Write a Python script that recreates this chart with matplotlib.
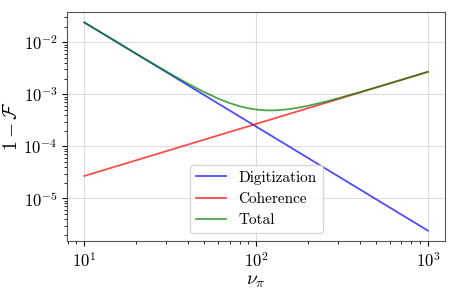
import matplotlib
matplotlib.use("Agg")
import matplotlib.pyplot as plt

# values (log-log)
nu = [10, 15, 20, 30, 35, 40, 45, 50, 60, 70, 80, 90, 100, 110, 120, 130, 150, 170,
      200, 250, 300, 400, 500, 700, 1000]
digitization = [2.4e-2, 1.07e-2, 6.0e-3, 2.67e-3, 1.96e-3, 1.5e-3, 1.185e-3, 9.6e-4, 6.67e-4,
                4.9e-4, 3.75e-4, 2.96e-4, 2.4e-4, 1.98e-4, 1.67e-4, 1.42e-4, 1.07e-4, 8.3e-5,
                6.0e-5, 3.84e-5, 2.67e-5, 1.5e-5, 9.6e-6, 4.9e-6, 2.4e-6]
coherence = [2.7e-5, 4.05e-5, 5.4e-5, 8.1e-5, 9.45e-5, 1.08e-4, 1.215e-4, 1.35e-4, 1.62e-4,
             1.89e-4, 2.16e-4, 2.43e-4, 2.7e-4, 2.97e-4, 3.24e-4, 3.51e-4, 4.05e-4, 4.59e-4,
             5.4e-4, 6.75e-4, 8.1e-4, 1.08e-3, 1.35e-3, 1.89e-3, 2.7e-3]
total = [2.40e-2, 1.07e-2, 6.05e-3, 2.75e-3, 2.05e-3, 1.61e-3, 1.31e-3, 1.10e-3, 8.3e-4,
         6.8e-4, 5.9e-4, 5.4e-4, 5.1e-4, 4.95e-4, 4.91e-4, 4.93e-4, 5.12e-4, 5.42e-4,
         6.0e-4, 7.13e-4, 8.37e-4, 1.095e-3, 1.36e-3, 1.895e-3, 2.7e-3]

plt.rcParams["font.family"] = "serif"
plt.rcParams["font.serif"] = ["cmr10"]
plt.rcParams["mathtext.fontset"] = "cm"
plt.rcParams["axes.formatter.use_mathtext"] = True
plt.rcParams["axes.unicode_minus"] = False

fig, ax = plt.subplots(figsize=(4.57, 2.94), dpi=100)
fig.subplots_adjust(left=0.147, right=0.974, top=0.959, bottom=0.18)

ax.loglog(nu, digitization, color="blue", alpha=0.7, lw=1.3, label="Digitization")
ax.loglog(nu, coherence, color="red", alpha=0.7, lw=1.3, label="Coherence")
ax.loglog(nu, total, color="green", alpha=0.7, lw=1.3, label="Total")

ax.grid(True, which="major", color="#dddddd", lw=0.8)
ax.set_axisbelow(True)
for s in ax.spines.values():
    s.set_color("#555555")

ax.tick_params(labelsize=12)
ax.set_xlabel(r"$\nu_\pi$", fontsize=14, labelpad=2)
ax.set_ylabel(r"$1-\mathcal{F}$", fontsize=14, labelpad=2)
ax.legend(loc="lower center", fontsize=11)

fig.savefig("out.png", dpi=100)
